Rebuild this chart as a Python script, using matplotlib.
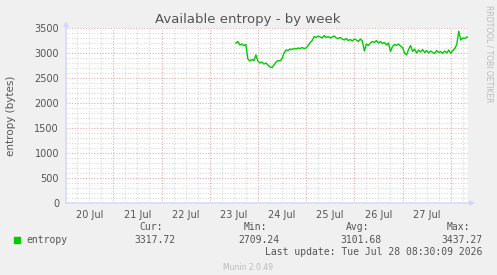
import numpy as np
import matplotlib.pyplot as plt
from matplotlib.patches import Rectangle

# hours since 20 Jul 00:00
hours = list(range(85, 201)) + [200.5]
entropy = [
    3200, 3230, 3160, 3180, 3150, 3170, 2880, 2840, 2870, 2850,
    2960, 2840, 2800, 2820, 2780, 2800, 2760, 2720, 2709, 2760,
    2820, 2850, 2840, 2890, 3000, 3060, 3050, 3080, 3070, 3090,
    3080, 3100, 3090, 3110, 3090, 3100, 3150, 3210, 3250, 3330,
    3310, 3340, 3320, 3300, 3350, 3310, 3330, 3300, 3320, 3340,
    3300, 3290, 3310, 3280, 3260, 3290, 3250, 3270, 3240, 3280,
    3260, 3230, 3280, 3240, 3040, 3180, 3150, 3200, 3230, 3210,
    3250, 3200, 3230, 3190, 3210, 3160, 3200, 3030, 3130, 3170,
    3150, 3180, 3140, 3110, 3000, 2960, 3070, 3150, 3030, 3080,
    3000, 3060, 3020, 3070, 3010, 3050, 3000, 3040, 3010, 2990,
    3050, 3010, 3030, 2990, 3040, 3000, 3060, 2990, 3050, 3090,
    3170, 3437, 3260, 3300, 3290, 3320, 3318,
]
day_labels = ['20 Jul', '21 Jul', '22 Jul', '23 Jul', '24 Jul', '25 Jul', '26 Jul', '27 Jul']
yticks = [0, 500, 1000, 1500, 2000, 2500, 3000, 3500]
stats = [('Cur:', '3317.72'), ('Min:', '2709.24'), ('Avg:', '3101.68'), ('Max:', '3437.27')]

W, H = 497, 275
fig = plt.figure(figsize=(W / 100, H / 100), dpi=100, facecolor='#F0F0F0')
ax = fig.add_axes([66 / W, 72 / H, 402 / W, 175 / H])
ax.set_facecolor('white')
ax.set_xlim(0.45, 200.6)
ax.set_ylim(0, 3500)

# grid, rrdtool style
minor_c, major_c = '#D8D8D8', '#E6AAAA'
for y in range(100, 3501, 100):
    major = y % 500 == 0
    ax.axhline(y, color=major_c if major else minor_c, lw=0.8,
               ls=(0, (1, 1.5)), zorder=1)
for x in range(6, 201, 6):
    major = x % 24 == 0
    ax.axvline(x, color=major_c if major else minor_c, lw=0.8,
               ls=(0, (1, 1.5)), zorder=1)

ax.plot(hours, entropy, color='#00CC00', lw=1, zorder=3)

for s in ax.spines.values():
    s.set_visible(False)
axis_c = '#CFD6F8'
ax.annotate('', xy=(1.018, 0), xytext=(0, 0), xycoords='axes fraction',
            arrowprops=dict(arrowstyle='-|>', color=axis_c, lw=1, mutation_scale=7,
                            shrinkA=0, shrinkB=0), annotation_clip=False)
ax.annotate('', xy=(0, 1.04), xytext=(0, 0), xycoords='axes fraction',
            arrowprops=dict(arrowstyle='-|>', color=axis_c, lw=1, mutation_scale=7,
                            shrinkA=0, shrinkB=0), annotation_clip=False)

txt_c = '#555555'
ax.set_xticks([12 + 24 * i for i in range(len(day_labels))], day_labels)
ax.set_yticks(yticks, [str(v) for v in yticks])
ax.tick_params(length=0, labelsize=7, labelcolor=txt_c, pad=5)
ax.tick_params(axis='y', pad=5)
ax.set_ylabel('entropy (bytes)', fontsize=7.5, color=txt_c, labelpad=13)

fig.text(248, H - 19, 'Available entropy - by week', ha='center', va='center',
         fontsize=9.5, color=txt_c, transform=None)
fig.text(489 / W, 1 - 5 / H, 'RRDTOOL / TOBI OETIKER', rotation=270, ha='center', va='top',
         fontsize=5.5, color='#BBBBBB')

mono = 'DejaVu Sans Mono'
fig.patches.append(Rectangle((14 / W, 1 - 243 / H), 6 / W, 6 / H, color='#00CC00',
                             transform=fig.transFigure))
fig.text(26 / W, 1 - 240 / H, 'entropy', family=mono, fontsize=7, color=txt_c, va='center')
val_right = [175, 279, 381, 482]
for (head, val), xr in zip(stats, val_right):
    fig.text((xr - 12) / W, 1 - 227 / H, head, family=mono, fontsize=7, color=txt_c,
             ha='right', va='center')
    fig.text(xr / W, 1 - 240 / H, val, family=mono, fontsize=7, color=txt_c,
             ha='right', va='center')
fig.text(482 / W, 1 - 252 / H, 'Last update: Tue Jul 28 08:30:09 2026', family=mono,
         fontsize=7, color=txt_c, ha='right', va='center')
fig.text(248 / W, 1 - 267 / H, 'Munin 2.0.49', fontsize=5.5, color='#BBBBBB',
         ha='center', va='center')

fig.savefig('out.png', dpi=100, facecolor=fig.get_facecolor())
